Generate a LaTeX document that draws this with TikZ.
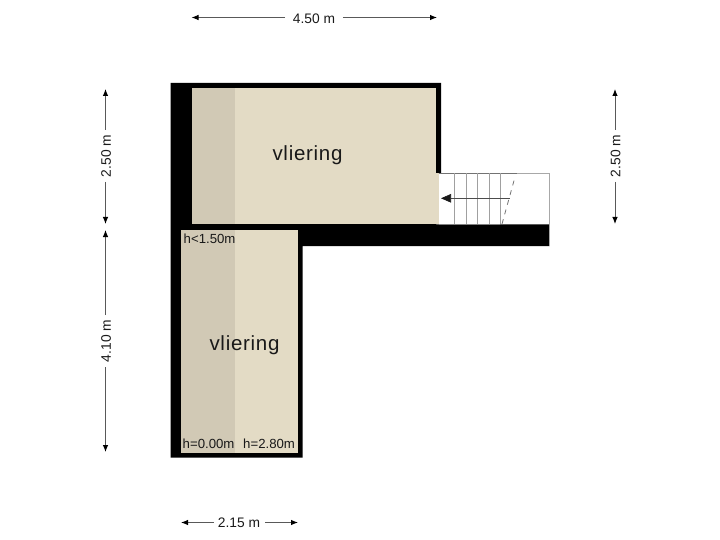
\documentclass[tikz,border=0pt]{standalone}
\usepackage{fontspec}
\setmainfont{Liberation Sans}
\usetikzlibrary{arrows.meta}
\definecolor{roomlight}{HTML}{E3DBC5}
\definecolor{roomdark}{HTML}{D1C9B5}
\definecolor{edgegray}{HTML}{A8A8A8}
\definecolor{treadgray}{HTML}{A0A0A0}
\tikzset{
  dimline/.style={draw=black!65,line width=0.9pt,-{Latex[length=7pt,width=5.5pt,black]}},
  dimlabel/.style={inner sep=0pt,font=\fontsize{13.8}{14}\selectfont,text=black!90},
  roomlabel/.style={inner sep=0pt,font=\fontsize{20.5}{21}\selectfont\addfontfeatures{LetterSpace=3.5},text=black!90},
  heightlabel/.style={inner sep=0pt,font=\fontsize{13.2}{14}\selectfont,text=black!90,anchor=base west},
  tread/.style={draw=treadgray,line width=0.8pt}
}
\begin{document}
\begin{tikzpicture}[x=1pt,y=-1pt]
\useasboundingbox (0,0) rectangle (720,540);
% walls
\fill[black] (170.5,83) -- (441,83) -- (441,173) -- (436,173) -- (436,224.5) -- (549.5,224.5) -- (549.5,246) -- (302.5,246) -- (302.5,457.5) -- (170.5,457.5) -- cycle;
% rooms
\fill[roomlight] (192.3,88) rectangle (436,224.5);
\fill[roomlight] (436,173.5) rectangle (438.5,224.5);
\fill[roomdark] (192.3,88) rectangle (235.3,224.5);
\fill[roomlight] (181.3,230.5) rectangle (297.5,452.5);
\fill[roomdark] (181.3,230.5) rectangle (235.3,452.5);
% stairs
\draw[edgegray,line width=0.8pt] (438.5,173) -- (549.5,173) -- (549.5,246);
\draw[black!55,line width=0.8pt] (438.5,173) -- (516.5,173);
\draw[black!50,line width=0.7pt] (438.5,224.5) -- (500,224.5);
\foreach \x in {454.3,466.3,477.5,489,500} {\draw[tread] (\x,173) -- (\x,224.5);}
\coordinate (dashA) at (502,224);
\coordinate (dashB) at (515,177);
\draw[black!55,line width=0.8pt,dash pattern=on 5pt off 5pt] (dashA) -- (dashB);
\coordinate (runS) at (509.5,198.3);
\coordinate (runE) at (441,198.3);
\draw[black!70,line width=0.6pt,-{Triangle[length=10pt,width=8.5pt,black!90]}] (runS) -- (runE);
% room labels
\node[roomlabel] (roomA) at (307.5,155) {vliering};
\node[roomlabel] (roomB) at (244.5,345.5) {vliering};
\node[heightlabel] (hA) at (183.5,243.5) {h<1.50m};
\node[heightlabel] (hB) at (182.5,448.5) {h=0.00m};
\node[heightlabel] (hC) at (243,448.5) {h=2.80m};
% dimensions
\node[dimlabel] (dTop) at (314,18.5) {4.50 m};
\coordinate (dTopL) at (191.5,17.5); \coordinate (dTopR) at (437,17.5);
\draw[dimline] (dTop.west)+(-7.5,-1) -- (dTopL);
\draw[dimline] (dTop.east)+(7.5,-1) -- (dTopR);
\node[dimlabel,rotate=90] (dLa) at (106,156) {2.50 m};
\coordinate (dLaT) at (105.5,89); \coordinate (dLaB) at (105.5,224);
\draw[dimline] (105.5,130) -- (dLaT);
\draw[dimline] (105.5,182) -- (dLaB);
\node[dimlabel,rotate=90] (dLb) at (106,341) {4.10 m};
\coordinate (dLbT) at (105.5,230); \coordinate (dLbB) at (105.5,452);
\draw[dimline] (105.5,315) -- (dLbT);
\draw[dimline] (105.5,367) -- (dLbB);
\node[dimlabel,rotate=90] (dR) at (615.5,156) {2.50 m};
\coordinate (dRT) at (615,89); \coordinate (dRB) at (615,224);
\draw[dimline] (615,130) -- (dRT);
\draw[dimline] (615,182) -- (dRB);
\node[dimlabel] (dBot) at (239,523) {2.15 m};
\coordinate (dBotL) at (181,522.5); \coordinate (dBotR) at (298,522.5);
\draw[dimline] (213.5,522.5) -- (dBotL);
\draw[dimline] (265,522.5) -- (dBotR);
\end{tikzpicture}
\end{document}
